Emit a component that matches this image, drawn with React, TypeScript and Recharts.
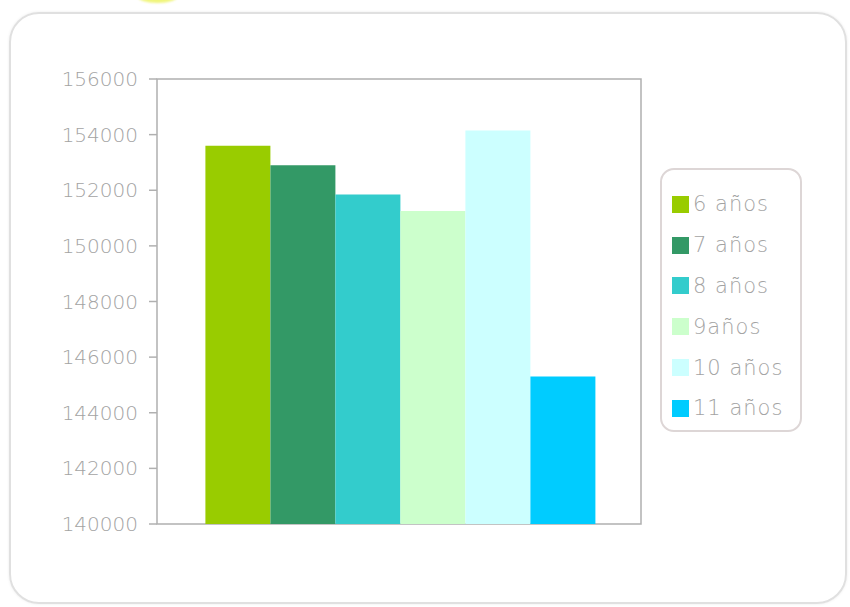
import React from "react";
import { BarChart, Bar, XAxis, YAxis, ReferenceArea } from "recharts";

const seriesKeys = ["s6", "s7", "s8", "s9", "s10", "s11"];
const seriesNames = ["6 años", "7 años", "8 años", "9años", "10 años", "11 años"];
const seriesValues = [153600, 152900, 151850, 151250, 154150, 145300];
const seriesColors = ["#99cc00", "#339966", "#33cccc", "#ccffcc", "#ccffff", "#00ccff"];
const yTicks = [140000, 142000, 144000, 146000, 148000, 150000, 152000, 154000, 156000];

const row: Record<string, any> = { name: "" };
seriesKeys.forEach((k, i) => {
  row[k] = seriesValues[i];
});
const data = [row];

const FONT = "'DejaVu Sans', sans-serif";
const TEXT = "#a3a3a3";
const AXIS = "#b0b0b0";

const LegendBox = () => (
  <div
    style={{
      position: "absolute",
      left: 660,
      top: 168,
      width: 142,
      height: 264,
      boxSizing: "border-box",
      border: "2px solid #ddd6d6",
      borderRadius: 14,
      paddingTop: 14,
      paddingLeft: 10,
      background: "#fff",
    }}
  >
    {seriesNames.map((n, i) => (
      <div
        key={n}
        style={{
          height: 40.8,
          display: "flex",
          alignItems: "center",
        }}
      >
        <div style={{ width: 17, height: 17, background: seriesColors[i], marginRight: 4 }} />
        <span
          style={{
            fontFamily: FONT,
            fontWeight: 200,
            fontSize: 21,
            letterSpacing: 1,
            color: TEXT,
            whiteSpace: "nowrap",
          }}
        >
          {n}
        </span>
      </div>
    ))}
  </div>
);

export default function App() {
  return (
    <div style={{ position: "absolute", left: 0, top: 0, width: 850, height: 607, background: "#fff", overflow: "hidden" }}>
      <div
        style={{
          position: "absolute",
          left: 137,
          top: -11,
          width: 41,
          height: 14,
          borderRadius: "50%",
          background: "#f0f57a",
          filter: "blur(1px)",
        }}
      />
      <div
        style={{
          position: "absolute",
          left: 9,
          top: 12,
          width: 838,
          height: 592,
          boxSizing: "border-box",
          border: "2px solid #e0e0e0",
          borderRadius: 30,
          boxShadow: "0 0 3px rgba(0,0,0,0.08)",
        }}
      />
      <div style={{ position: "absolute", left: 0, top: 0 }}>
        <BarChart
          width={850}
          height={607}
          data={data}
          margin={{ top: 79, right: 209, left: 0, bottom: 83 }}
          barGap={0}
          barCategoryGap="10%"
        >
          <XAxis dataKey="name" tick={false} tickLine={false} axisLine={false} height={0} />
          <YAxis
            width={157}
            domain={[140000, 156000]}
            ticks={yTicks}
            interval={0}
            allowDataOverflow
            tickSize={8}
            tickMargin={11}
            axisLine={false}
            tickLine={{ stroke: AXIS, strokeWidth: 1.5 }}
            tick={{ fill: TEXT, fontFamily: FONT, fontWeight: 200, fontSize: 20 }}
          />
          {seriesKeys.map((k, i) => (
            <Bar key={k} dataKey={k} name={seriesNames[i]} fill={seriesColors[i]} isAnimationActive={false} />
          ))}
          <ReferenceArea
            y1={140000}
            y2={156000}
            fill="none"
            fillOpacity={0}
            stroke={AXIS}
            strokeWidth={1.5}
            ifOverflow="visible"
          />
        </BarChart>
      </div>
      <LegendBox />
    </div>
  );
}
